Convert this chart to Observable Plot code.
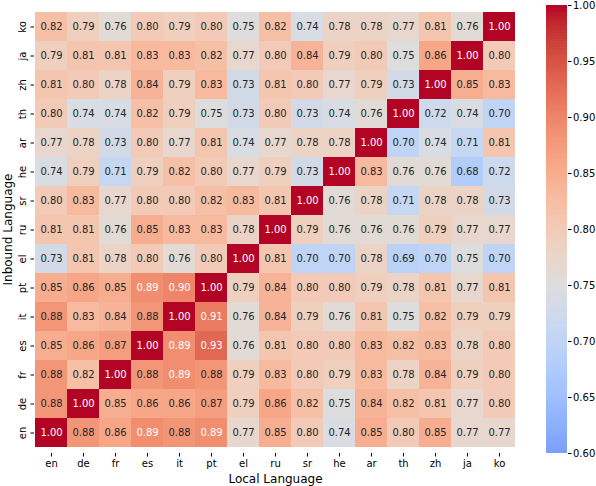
<!DOCTYPE html>
<html>
<head>
<meta charset="utf-8">
<script src="https://cdn.jsdelivr.net/npm/d3@7"></script>
<script src="https://cdn.jsdelivr.net/npm/@observablehq/plot@0.6"></script>
<style>
  body { margin: 0; background: #fff; }
  #wrap { position: relative; width: 596px; height: 486px; }
  #wrap svg { position: absolute; left: 0; top: 0; }
</style>
</head>
<body>
<div id="wrap"></div>
<script>
// Column (x) labels: local language
const localLangs = ["en","de","fr","es","it","pt","el","ru","sr","he","ar","th","zh","ja","ko"];
// Row (y) labels: inbound language, top to bottom
const inboundLangs = ["ko","ja","zh","th","ar","he","sr","ru","el","pt","it","es","fr","de","en"];
// Matrix rows (in order of inboundLangs), columns in order of localLangs
const rowKo = [0.82,0.79,0.76,0.80,0.79,0.80,0.75,0.82,0.74,0.78,0.78,0.77,0.81,0.76,1.00];
const rowJa = [0.79,0.81,0.81,0.83,0.83,0.82,0.77,0.80,0.84,0.79,0.80,0.75,0.86,1.00,0.80];
const rowZh = [0.81,0.80,0.78,0.84,0.79,0.83,0.73,0.81,0.80,0.77,0.79,0.73,1.00,0.85,0.83];
const rowTh = [0.80,0.74,0.74,0.82,0.79,0.75,0.73,0.80,0.73,0.74,0.76,1.00,0.72,0.74,0.70];
const rowAr = [0.77,0.78,0.73,0.80,0.77,0.81,0.74,0.77,0.78,0.78,1.00,0.70,0.74,0.71,0.81];
const rowHe = [0.74,0.79,0.71,0.79,0.82,0.80,0.77,0.79,0.73,1.00,0.83,0.76,0.76,0.68,0.72];
const rowSr = [0.80,0.83,0.77,0.80,0.80,0.82,0.83,0.81,1.00,0.76,0.78,0.71,0.78,0.78,0.73];
const rowRu = [0.81,0.81,0.76,0.85,0.83,0.83,0.78,1.00,0.79,0.76,0.76,0.76,0.79,0.77,0.77];
const rowEl = [0.73,0.81,0.78,0.80,0.76,0.80,1.00,0.81,0.70,0.70,0.78,0.69,0.70,0.75,0.70];
const rowPt = [0.85,0.86,0.85,0.89,0.90,1.00,0.79,0.84,0.80,0.80,0.79,0.78,0.81,0.77,0.81];
const rowIt = [0.88,0.83,0.84,0.88,1.00,0.91,0.76,0.84,0.79,0.76,0.81,0.75,0.82,0.79,0.79];
const rowEs = [0.85,0.86,0.87,1.00,0.89,0.93,0.76,0.81,0.80,0.80,0.83,0.82,0.83,0.78,0.80];
const rowFr = [0.88,0.82,1.00,0.88,0.89,0.88,0.79,0.83,0.80,0.79,0.83,0.78,0.84,0.79,0.80];
const rowDe = [0.88,1.00,0.85,0.86,0.86,0.87,0.79,0.86,0.82,0.75,0.84,0.82,0.81,0.77,0.80];
const rowEn = [1.00,0.88,0.86,0.89,0.88,0.89,0.77,0.85,0.80,0.74,0.85,0.80,0.85,0.77,0.77];
const matrixRows = [rowKo,rowJa,rowZh,rowTh,rowAr,rowHe,rowSr,rowRu,rowEl,rowPt,rowIt,rowEs,rowFr,rowDe,rowEn];
// Colorbar tick labels
const colorbarTicks = [0.60,0.65,0.70,0.75,0.80,0.85,0.90,0.95,1.00];

// matplotlib "coolwarm" anchor colors (style)
const coolwarmStops = [
 [0.2298,0.2987,0.7537],[0.2662,0.3531,0.8015],[0.3039,0.4065,0.8450],[0.3428,0.4588,0.8837],
 [0.3830,0.5094,0.9174],[0.4244,0.5581,0.9456],[0.4667,0.6046,0.9682],[0.5096,0.6483,0.9848],
 [0.5530,0.6889,0.9954],[0.5963,0.7261,0.9998],[0.6392,0.7596,0.9982],[0.6813,0.7890,0.9904],
 [0.7222,0.8140,0.9766],[0.7615,0.8343,0.9569],[0.7987,0.8498,0.9317],[0.8335,0.8602,0.9011],
 [0.8654,0.8654,0.8654],[0.8978,0.8489,0.8209],[0.9241,0.8274,0.7745],[0.9445,0.8009,0.7267],
 [0.9589,0.7698,0.6780],[0.9673,0.7341,0.6288],[0.9700,0.6943,0.5794],[0.9668,0.6504,0.5303],
 [0.9580,0.6028,0.4818],[0.9437,0.5518,0.4342],[0.9239,0.4973,0.3880],[0.8990,0.4396,0.3432],
 [0.8692,0.3783,0.3003],[0.8346,0.3129,0.2593],[0.7956,0.2413,0.2205],[0.7525,0.1572,0.1841],
 [0.7057,0.0156,0.1502]
].map(([r,g,b]) => d3.rgb(r*255,g*255,b*255).formatHex());
const coolwarm = d3.piecewise(d3.interpolateRgb, coolwarmStops);
// seaborn-style centering: vmin 0.60, vmax 1.00, center 0.75
const colorScale = {type: "linear", domain: [0.5, 1.0], interpolate: () => coolwarm, clamp: true};

const cells = [];
inboundLangs.forEach((r, i) => localLangs.forEach((c, j) => cells.push({row: r, col: c, value: matrixRows[i][j]})));

function lum(v) {
  const t = (v - 0.5) / 0.5;
  const c = d3.rgb(coolwarm(t));
  const f = x => { x /= 255; return x <= 0.03928 ? x / 12.92 : Math.pow((x + 0.055) / 1.055, 2.4); };
  return 0.2126 * f(c.r) + 0.7152 * f(c.g) + 0.0722 * f(c.b);
}

const W = 596, H = 486;
const font = "DejaVu Sans, sans-serif";

const main = Plot.plot({
  width: W, height: H,
  marginLeft: 34, marginRight: 80, marginTop: 5, marginBottom: 33,
  style: {fontFamily: font, fontSize: "10px", color: "#000", background: "transparent"},
  x: {type: "band", domain: localLangs, padding: 0},
  y: {type: "band", domain: inboundLangs, padding: 0},
  color: colorScale,
  marks: [
    Plot.cell(cells, {x: "col", y: "row", fill: "value", inset: 0}),
    Plot.text(cells.filter(d => lum(d.value) > 0.408), {x: "col", y: "row", text: d => d.value.toFixed(2), fill: "#262626", fontSize: 10}),
    Plot.text(cells.filter(d => lum(d.value) <= 0.408), {x: "col", y: "row", text: d => d.value.toFixed(2), fill: "#fff", fontSize: 10}),
    Plot.axisX({anchor: "bottom", tickSize: 3.5, tickPadding: 3, label: null, fontSize: 10}),
    Plot.axisY({anchor: "left", tickSize: 3.5, tickPadding: 5, tickRotate: -90, label: null, fontSize: 10}),
    Plot.text(["Local Language"], {frameAnchor: "bottom", dy: 26, fontSize: 12, lineAnchor: "middle", textAnchor: "middle"}),
    Plot.text(["Inbound Language"], {frameAnchor: "left", dx: -26, rotate: -90, fontSize: 12, lineAnchor: "middle", textAnchor: "middle"})
  ]
});

const bandStep = 0.0025;
const bands = d3.range(0.6, 1.0, bandStep);
const bar = Plot.plot({
  width: W, height: H,
  marginLeft: 546, marginRight: 29, marginTop: 5, marginBottom: 33,
  style: {fontFamily: font, fontSize: "10px", color: "#000", background: "transparent"},
  x: {axis: null, domain: [0, 1]},
  y: {domain: [0.6, 1.0]},
  color: colorScale,
  marks: [
    Plot.rect(bands, {x1: 0, x2: 1, y1: d => d, y2: d => Math.min(1.0, d + bandStep + 0.0008), fill: d => d + bandStep / 2, shapeRendering: "crispEdges"}),
    Plot.axisY({anchor: "right", ticks: colorbarTicks, tickFormat: d => d.toFixed(2), tickSize: 3.5, tickPadding: 2, label: null, fontSize: 10})
  ]
});

const wrap = document.getElementById("wrap");
wrap.appendChild(main);
wrap.appendChild(bar);
</script>
</body>
</html>
